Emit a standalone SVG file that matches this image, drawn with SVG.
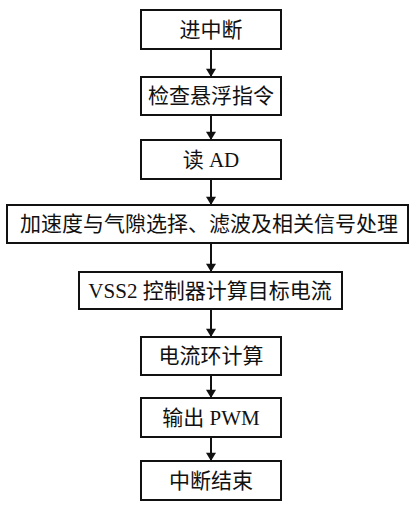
<svg xmlns="http://www.w3.org/2000/svg" width="412" height="506" viewBox="0 0 412 506">
  <style>
    .box { fill: #fff; stroke: #111; stroke-width: 2; }
    .lbl { font-family: "Liberation Serif", "Noto Sans CJK SC", serif; font-size: 21px; fill: #111; text-anchor: middle; dominant-baseline: central; }
    .edge { stroke: #111; stroke-width: 2; fill: none; marker-end: url(#arrow); }
  </style>
  <defs>
    <marker id="arrow" viewBox="0 0 10 12" refX="10" refY="6" markerWidth="6" markerHeight="5" markerUnits="strokeWidth" orient="auto">
      <path d="M0,0 L10,6 L0,12 z" fill="#111"/>
    </marker>
  </defs>
  <rect width="412" height="506" fill="#fff"/>

  <g id="connectors">
    <line class="edge" x1="211" y1="49" x2="211" y2="77"/>
    <line class="edge" x1="211" y1="115" x2="211" y2="140"/>
    <line class="edge" x1="211" y1="179" x2="211" y2="205"/>
    <line class="edge" x1="211" y1="243" x2="211" y2="272"/>
    <line class="edge" x1="211" y1="309" x2="211" y2="337"/>
    <line class="edge" x1="211" y1="375" x2="211" y2="398"/>
    <line class="edge" x1="211" y1="437" x2="211" y2="461"/>
  </g>

  <g id="n1">
    <rect class="box" x="141" y="10" width="140" height="39"/>
    <text class="lbl" x="211" y="30">进中断</text>
  </g>
  <g id="n2">
    <rect class="box" x="141" y="77" width="140" height="38"/>
    <text class="lbl" x="211" y="96">检查悬浮指令</text>
  </g>
  <g id="n3">
    <rect class="box" x="141" y="140" width="140" height="39"/>
    <text class="lbl" x="211" y="160">读 AD</text>
  </g>
  <g id="n4">
    <rect class="box" x="7" y="205" width="401" height="38"/>
    <text class="lbl" x="209" y="224">加速度与气隙选择、滤波及相关信号处理</text>
  </g>
  <g id="n5">
    <rect class="box" x="79" y="272" width="263" height="37"/>
    <text class="lbl" x="210" y="291">VSS2 控制器计算目标电流</text>
  </g>
  <g id="n6">
    <rect class="box" x="141" y="337" width="140" height="38"/>
    <text class="lbl" x="211" y="356">电流环计算</text>
  </g>
  <g id="n7">
    <rect class="box" x="141" y="398" width="140" height="39"/>
    <text class="lbl" x="211" y="418">输出 PWM</text>
  </g>
  <g id="n8">
    <rect class="box" x="141" y="461" width="140" height="39"/>
    <text class="lbl" x="211" y="481">中断结束</text>
  </g>
</svg>
